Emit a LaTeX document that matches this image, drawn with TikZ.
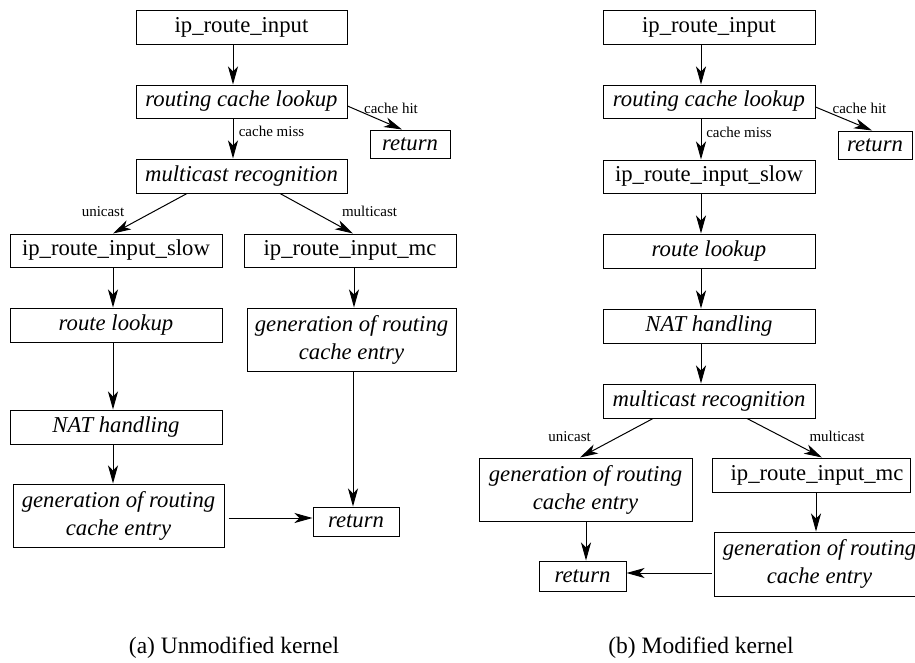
\documentclass[tikz,border=0pt]{standalone}
\usepackage{fontspec}
\setmainfont{Liberation Serif}
\usetikzlibrary{arrows.meta}

\tikzset{
  box/.style={draw, line width=1pt, inner sep=0pt, align=center,
    font=\fontsize{22.7}{28}\selectfont},
  ibox/.style={box, font=\fontsize{22.7}{28}\selectfont\itshape},
  arr/.style={line width=1pt, -{Stealth[length=18pt, width=10pt, inset=5pt]}},
  lbl/.style={inner sep=0pt, anchor=base, font=\fontsize{15}{18}\selectfont},
  captext/.style={inner sep=0pt, anchor=base, font=\fontsize{23.5}{28}\selectfont},
}

\begin{document}
\begin{tikzpicture}[x=1pt, y=-1pt]
\useasboundingbox (0,0) rectangle (915,662);
\clip (0,0) rectangle (915,662);

% ---------------- (a) unmodified kernel ----------------
\node[box,  minimum width=211pt, minimum height=34pt] (L1) at (241.5,27) {ip\_route\_input};
\node[ibox, minimum width=211pt, minimum height=33pt] (L2) at (241.5,101.5) {routing cache lookup};
\node[ibox, minimum width=80pt,  minimum height=28pt] (Lr1) at (410,144) {return};
\node[ibox, minimum width=211pt, minimum height=34pt] (L3) at (241.5,176) {multicast recognition};
\node[box,  minimum width=212pt, minimum height=33pt] (L4) at (116,250.5) {ip\_route\_input\_slow};
\node[box,  minimum width=212pt, minimum height=33pt] (L5) at (350,250.5) {ip\_route\_input\_mc};
\node[ibox, minimum width=212pt, minimum height=34pt] (L6) at (116,325) {route lookup};
\node[ibox, minimum width=209pt, minimum height=63pt] (L7) at (351.5,339.5) {generation of routing\\cache entry};
\node[ibox, minimum width=212pt, minimum height=34pt] (L8) at (116,427) {NAT handling};
\node[ibox, minimum width=211pt, minimum height=63pt] (L9) at (118.5,515.5) {generation of routing\\cache entry};
\node[ibox, minimum width=86pt,  minimum height=29pt] (Lr2) at (356,521.5) {return};

\draw[arr] ([xshift=-8.5pt]L1.south) -- ([xshift=-8.5pt]L2.north);
\draw[arr] ([xshift=-8.5pt]L2.south) -- ([xshift=-8.5pt]L3.north);
\draw[arr] ([yshift=-4.5pt]L2.east) -- ([xshift=-8pt]Lr1.north);
\draw[arr] ([xshift=-54.5pt]L3.south) -- ([xshift=-3pt]L4.north);
\draw[arr] ([xshift=38.5pt]L3.south) -- ([xshift=3pt]L5.north);
\draw[arr] ([xshift=-3pt]L4.south) -- ([xshift=-3pt]L6.north);
\draw[arr] ([xshift=-3pt]L6.south) -- ([xshift=-3pt]L8.north);
\draw[arr] ([xshift=-3pt]L8.south) -- ([xshift=-5.5pt]L9.north);
\draw[arr] ([xshift=4pt]L5.south) -- ([xshift=2.5pt]L7.north);
\draw[arr] ([xshift=1.5pt]L7.south) -- ([xshift=-3pt]Lr2.north);
\draw[arr] ([xshift=4pt, yshift=-2.5pt]L9.east) -- ([yshift=3.5pt]Lr2.west);

\node[lbl] (la1) at (391,113) {cache hit};
\node[lbl] (la2) at (271.5,136) {cache miss};
\node[lbl] (la3) at (103,216) {unicast};
\node[lbl] (la4) at (369.5,216) {multicast};
\node[captext] (capa) at (234,653) {(a) Unmodified kernel};

% ---------------- (b) modified kernel ----------------
\node[box,  minimum width=212pt, minimum height=34pt] (R1) at (709,27) {ip\_route\_input};
\node[ibox, minimum width=212pt, minimum height=33pt] (R2) at (709,101.5) {routing cache lookup};
\node[ibox, minimum width=74pt,  minimum height=28pt] (Rr1) at (875,145) {return};
\node[box,  minimum width=212pt, minimum height=33pt] (R3) at (709,176.5) {ip\_route\_input\_slow};
\node[ibox, minimum width=212pt, minimum height=34pt] (R4) at (709,251) {route lookup};
\node[ibox, minimum width=212pt, minimum height=34pt] (R5) at (709,326) {NAT handling};
\node[ibox, minimum width=212pt, minimum height=34pt] (R6) at (709,401) {multicast recognition};
\node[ibox, minimum width=213pt, minimum height=63pt] (R7) at (585.5,489.5) {generation of routing\\cache entry};
\node[box,  minimum width=198pt, minimum height=34pt] (R8) at (811,475) {\hspace*{12pt}ip\_route\_input\_mc};
\node[ibox, minimum width=211pt, minimum height=64pt] (R9) at (819.5,564) {generation of routing\\cache entry};
\node[ibox, minimum width=87pt,  minimum height=30pt] (Rr2) at (582.5,576) {return};

\draw[arr] ([xshift=-8pt]R1.south) -- ([xshift=-8pt]R2.north);
\draw[arr] ([xshift=-8pt]R2.south) -- ([xshift=-8pt]R3.north);
\draw[arr] ([yshift=-5.5pt]R2.east) -- ([xshift=-3pt]Rr1.north);
\draw[arr] ([xshift=-8pt]R3.south) -- ([xshift=-8pt]R4.north);
\draw[arr] ([xshift=-8pt]R4.south) -- ([xshift=-8pt]R5.north);
\draw[arr] ([xshift=-8pt]R5.south) -- ([xshift=-8pt]R6.north);
\draw[arr] ([xshift=-56pt]R6.south) -- ([xshift=-5.5pt]R7.north);
\draw[arr] ([xshift=38pt]R6.south) -- ([xshift=11pt]R8.north);
\draw[arr] ([xshift=5pt]R8.south) -- ([xshift=-3.5pt]R9.north);
\draw[arr] ([xshift=0.5pt]R7.south) -- ([xshift=3.5pt]Rr2.north);
\draw[arr] ([xshift=-2pt, yshift=-9pt]R9.west) -- ([yshift=3pt]Rr2.east);

\node[lbl] (lb1) at (859.5,113) {cache hit};
\node[lbl] (lb2) at (739,137) {cache miss};
\node[lbl] (lb3) at (569.5,441) {unicast};
\node[lbl] (lb4) at (837,441) {multicast};
\node[captext] (capb) at (701,653) {(b) Modified kernel};
\end{tikzpicture}
\end{document}
